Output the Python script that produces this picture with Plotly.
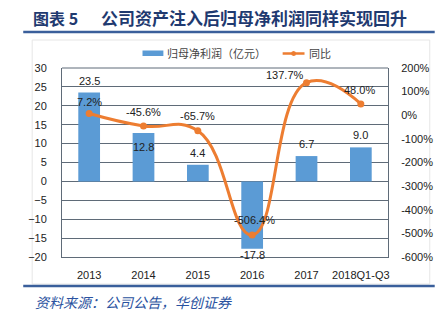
import plotly.graph_objects as go

years = ["2013", "2014", "2015", "2016", "2017", "2018Q1-Q3"]
profit = [23.5, 12.8, 4.4, -17.8, 6.7, 9.0]
yoy = [7.2, -45.6, -65.7, -506.4, 137.7, 48.0]
profit_labels = ["23.5", "12.8", "4.4", "-17.8", "6.7", "9.0"]
yoy_labels = ["7.2%", "-45.6%", "-65.7%", "-506.4%", "137.7%", "48.0%"]
left_ticks = [30, 25, 20, 15, 10, 5, 0, -5, -10, -15, -20]
right_ticks = [200, 100, 0, -100, -200, -300, -400, -500, -600]

# label offsets (pixels) relative to bar end / line point
profit_label_shift = [12, -13.5, 12, -6, 12, 12]
yoy_label_shift = [(0, 12), (0, 14), (0, 14.5), (2, 15), (-22, 8), (-1, 14)]

W, H = 445, 322
L, R, T, B = 62, 390, 68, 257


def px(x):
    return (x - L) / (R - L)


def py(y):
    return (B - y) / (B - T)


NUM = "Liberation Sans, Arial, sans-serif"
CJK = "Noto Sans CJK SC, sans-serif"
GRID = "#5f6b78"
BLUE = "#5b9bd5"
ORANGE = "#ed7d31"
TXT = "#222"

fig = go.Figure()
fig.add_trace(go.Bar(
    x=years, y=profit, name="归母净利润（亿元）",
    marker=dict(color=BLUE, line=dict(width=0)),
    width=0.4, yaxis="y", showlegend=False,
))
fig.add_trace(go.Scatter(
    x=years, y=yoy, name="同比", yaxis="y2",
    mode="lines+markers",
    line=dict(color=ORANGE, width=3, shape="spline", smoothing=1.3),
    marker=dict(color=ORANGE, size=7),
    cliponaxis=False, showlegend=False,
))

annotations = []
for i, (v, lab, s) in enumerate(zip(profit, profit_labels, profit_label_shift)):
    annotations.append(dict(x=i, y=v, xref="x", yref="y", text=lab, showarrow=False,
                            yanchor="middle", yshift=s,
                            font=dict(family=NUM, size=11, color=TXT)))
for i, (v, lab, (sx, sy)) in enumerate(zip(yoy, yoy_labels, yoy_label_shift)):
    annotations.append(dict(x=i, y=v, xref="x", yref="y2", text=lab, showarrow=False,
                            yanchor="middle", xshift=sx, yshift=sy,
                            font=dict(family=NUM, size=11, color=TXT)))

annotations += [
    dict(text="<b>图表 5</b>", xref="paper", yref="paper",
         x=px(31), y=py(18), xanchor="left", yanchor="middle", showarrow=False,
         font=dict(family=CJK, size=16, color="#1f3a70")),
    dict(text="<b>公司资产注入后归母净利润同样实现回升</b>", xref="paper", yref="paper",
         x=px(99), y=py(18), xanchor="left", yanchor="middle", showarrow=False,
         font=dict(family=CJK, size=17, color="#1f3a70")),
    dict(text="<i>资料来源：公司公告，华创证券</i>", xref="paper", yref="paper",
         x=px(33), y=py(302), xanchor="left", yanchor="middle", showarrow=False,
         font=dict(family=CJK, size=14, color="#2a52a0")),
    dict(text="归母净利润（亿元）", xref="paper", yref="paper",
         x=px(166), y=py(53), xanchor="left", yanchor="middle", showarrow=False,
         font=dict(family=CJK, size=11, color="#444")),
    dict(text="同比", xref="paper", yref="paper",
         x=px(308), y=py(53), xanchor="left", yanchor="middle", showarrow=False,
         font=dict(family=CJK, size=11, color="#444")),
]

shapes = [
    dict(type="line", xref="paper", yref="paper", x0=px(23), x1=px(437), y0=py(32), y1=py(32),
         line=dict(color="#3a5f9b", width=2.5)),
    dict(type="line", xref="paper", yref="paper", x0=px(23), x1=px(437), y0=py(286), y1=py(286),
         line=dict(color="#3a5f9b", width=2.5)),
    dict(type="rect", xref="paper", yref="paper", x0=px(32), x1=px(432), y0=py(40), y1=py(284),
         line=dict(color="#e6e6e6", width=1), layer="below"),
    dict(type="line", xref="paper", yref="paper", x0=0, x1=1, y0=1, y1=1,
         line=dict(color=GRID, width=1)),
    # legend keys
    dict(type="rect", xref="paper", yref="paper", x0=px(143), x1=px(164), y0=py(50.5), y1=py(56),
         fillcolor=BLUE, line=dict(width=0)),
    dict(type="line", xref="paper", yref="paper", x0=px(284), x1=px(306), y0=py(53.5), y1=py(53.5),
         line=dict(color=ORANGE, width=2.5)),
    dict(type="circle", xref="paper", yref="paper", x0=px(292.5), x1=px(297.5), y0=py(51), y1=py(56),
         fillcolor=ORANGE, line=dict(width=0)),
]

fig.update_layout(
    width=W, height=H,
    margin=dict(l=L, r=W - R, t=T, b=H - B, pad=0),
    paper_bgcolor="white", plot_bgcolor="white",
    showlegend=False,
    xaxis=dict(type="category", range=[-0.5, len(years) - 0.5], autorange=False,
               showgrid=False, showline=True, linecolor=GRID, linewidth=1,
               ticks="", ticklabelstandoff=8, tickfont=dict(family=NUM, size=11, color=TXT)),
    yaxis=dict(range=[-20, 30], tickvals=left_ticks, showgrid=True, gridcolor=GRID, gridwidth=1,
               zeroline=True, zerolinecolor=GRID, zerolinewidth=1,
               showline=True, linecolor=GRID, linewidth=1, ticks="", ticklabelstandoff=12,
               tickfont=dict(family=NUM, size=11, color=TXT)),
    yaxis2=dict(range=[-600, 200], tickvals=right_ticks, ticktext=[f"{v}%" for v in right_ticks],
                overlaying="y", side="right", showgrid=False, zeroline=False,
                showline=True, linecolor=GRID, linewidth=1, ticks="", ticklabelstandoff=10,
                tickfont=dict(family=NUM, size=11, color=TXT)),
    shapes=shapes,
    annotations=annotations,
)

fig.write_html("out.html")
